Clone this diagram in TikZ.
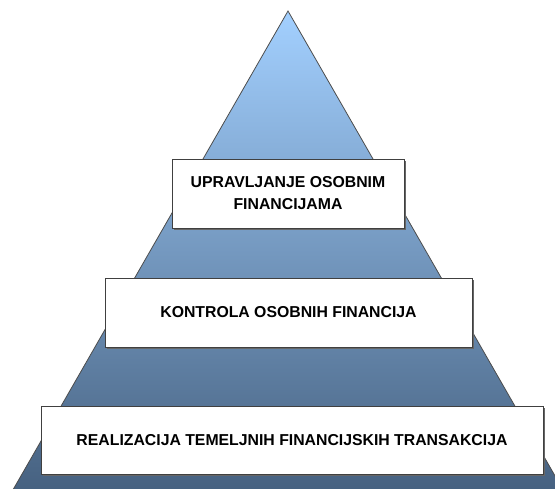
\documentclass[tikz,border=0pt]{standalone}
\usepackage{fontspec}
\setmainfont{Liberation Sans}
\usetikzlibrary{shadows}
\definecolor{pyrtop}{RGB}{163,208,255}
\definecolor{pyrmid}{RGB}{114,158,205}
\definecolor{pyrbot}{RGB}{69,96,127}

\begin{document}
\begin{tikzpicture}[x=1pt,y=-1pt,
    level/.style={draw=black!75, fill=white, line width=0.8pt, inner sep=0pt,
      align=center, font=\fontsize{15.8}{22}\selectfont\bfseries,
      drop shadow={shadow xshift=1.5pt, shadow yshift=-1.5pt, fill=black!60, opacity=1}}]
    % Fix the canvas
    \useasboundingbox (0,0) rectangle (555,488);
    \clip (0,0) rectangle (555,488);
    % Draw the pyramid
    \draw[black!70, line width=0.8pt, top color=pyrtop, middle color=pyrmid, bottom color=pyrbot]
    (288,11) -- (566,495) -- (10,495) -- cycle;
    % Draw the levels
    \node[level, minimum width=232pt, minimum height=69pt] (manage) at (288,193.5)
    {UPRAVLJANJE OSOBNIM\\FINANCIJAMA};
    \node[level, minimum width=367pt, minimum height=69pt] (control) at (288.5,312.5)
    {KONTROLA OSOBNIH FINANCIJA};
    \node[level, minimum width=502pt, minimum height=68pt] (basic) at (292,440)
    {REALIZACIJA TEMELJNIH FINANCIJSKIH TRANSAKCIJA};
\end{tikzpicture}
\end{document}
